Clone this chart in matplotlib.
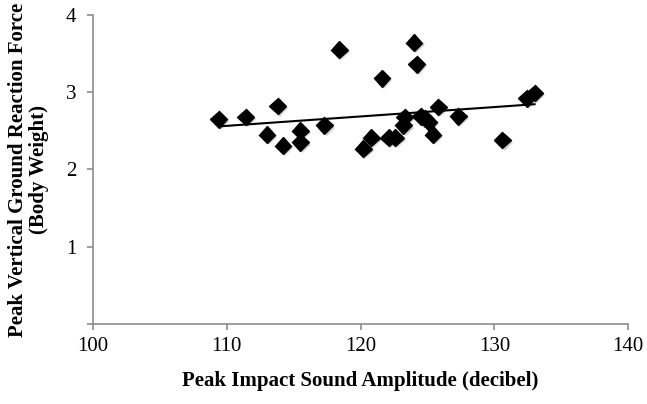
import numpy as np
import matplotlib.pyplot as plt
import matplotlib.patheffects as pe

# Peak impact sound amplitude (dB) vs peak vertical GRF (body weight)
sound_db = [109.4, 111.4, 113.8, 113.0, 114.2, 115.5, 115.5, 117.3, 118.4, 120.2,
            120.8, 121.6, 122.1, 122.6, 124.0, 124.2, 123.3, 123.2, 124.5, 124.8,
            125.1, 125.4, 125.8, 127.3, 130.6, 132.4, 133.0]
grf_bw = [2.65, 2.68, 2.82, 2.45, 2.31, 2.50, 2.35, 2.57, 3.55, 2.27,
          2.41, 3.18, 2.41, 2.41, 3.64, 3.36, 2.68, 2.57, 2.69, 2.66,
          2.61, 2.45, 2.81, 2.69, 2.38, 2.92, 2.99]

plt.rcParams['font.family'] = ['Liberation Serif', 'DejaVu Serif']

fig = plt.figure(figsize=(6.47, 4.04), dpi=100)
ax = fig.add_axes([0.1437, 0.198, 0.8273, 0.765])

x = np.array(sound_db)
y = np.array(grf_bw)

ax.plot(x, y, linestyle='none', marker='D', ms=8.5, color='black',
        path_effects=[pe.withSimplePatchShadow(offset=(1.5, -1.5), shadow_rgbFace='gray', alpha=0.35)])

# linear trendline
m, b = np.polyfit(x, y, 1)
xs = np.array([x.min(), x.max()])
ax.plot(xs, m * xs + b, color='black', lw=1.5)

ax.set_xlim(100, 140)
ax.set_ylim(0, 4)
ax.set_xticks([100, 110, 120, 130, 140])
ax.set_yticks([0, 1, 2, 3, 4])
ax.set_yticklabels(['', '1', '2', '3', '4'])

for s in ['top', 'right']:
    ax.spines[s].set_visible(False)
for s in ['left', 'bottom']:
    ax.spines[s].set_color('#8c8c8c')
    ax.spines[s].set_linewidth(1.2)
ax.tick_params(direction='out', length=4, width=1.2, color='#8c8c8c', labelsize=15)
ax.tick_params(axis='x', pad=5)
ax.tick_params(axis='y', pad=8)

ax.set_xlabel('Peak Impact Sound Amplitude (decibel)', fontsize=15, fontweight='bold', labelpad=11)
ax.set_ylabel('Peak Vertical Ground Reaction Force\n(Body Weight)', fontsize=15,
              fontweight='bold', labelpad=12, linespacing=1.05)

fig.savefig('out.png', dpi=100)
